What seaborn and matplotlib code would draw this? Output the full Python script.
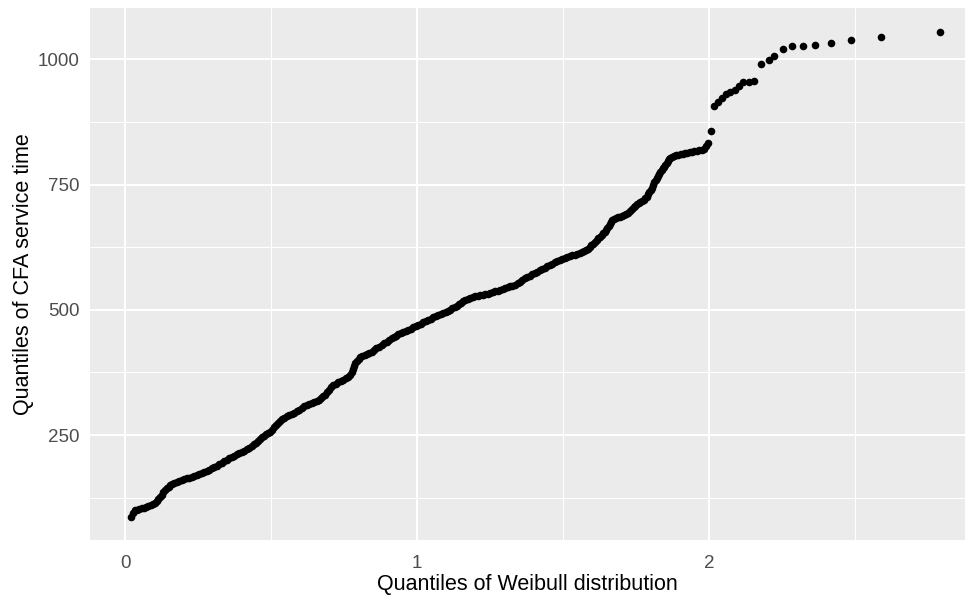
import matplotlib
matplotlib.use("Agg")
import matplotlib.pyplot as plt
import seaborn as sns
import pandas as pd

# Theoretical Weibull quantiles (x) and sample quantiles of CFA service time (y)
weibull_q = [
    0.020, 0.027, 0.033, 0.040, 0.048, 0.056, 0.064, 0.072, 0.079, 0.087,
    0.095, 0.102, 0.108, 0.113, 0.119, 0.124, 0.130, 0.136, 0.142, 0.148,
    0.153, 0.159, 0.167, 0.176, 0.185, 0.193, 0.202, 0.210, 0.219, 0.227,
    0.236, 0.245, 0.253, 0.262, 0.270, 0.279, 0.287, 0.296, 0.304, 0.313,
    0.321, 0.330, 0.338, 0.347, 0.355, 0.364, 0.372, 0.381, 0.390, 0.399,
    0.408, 0.416, 0.425, 0.433, 0.441, 0.447, 0.454, 0.461, 0.468, 0.475,
    0.482, 0.489, 0.496, 0.503, 0.510, 0.517, 0.523, 0.530, 0.537, 0.545,
    0.553, 0.562, 0.570, 0.578, 0.587, 0.595, 0.604, 0.612, 0.621, 0.629,
    0.638, 0.646, 0.655, 0.663, 0.670, 0.677, 0.684, 0.691, 0.698, 0.705,
    0.712, 0.720, 0.729, 0.738, 0.747, 0.755, 0.763, 0.770, 0.775, 0.779,
    0.783, 0.787, 0.793, 0.799, 0.805, 0.812, 0.820, 0.828, 0.836, 0.844,
    0.852, 0.860, 0.869, 0.878, 0.886, 0.895, 0.903, 0.912, 0.920, 0.928,
    0.935, 0.944, 0.952, 0.961, 0.969, 0.977, 0.986, 0.994, 1.003, 1.012,
    1.020, 1.029, 1.038, 1.046, 1.055, 1.064, 1.072, 1.080, 1.089, 1.097,
    1.106, 1.113, 1.120, 1.128, 1.135, 1.142, 1.149, 1.156, 1.163, 1.172,
    1.181, 1.190, 1.198, 1.207, 1.215, 1.224, 1.232, 1.241, 1.249, 1.258,
    1.266, 1.275, 1.283, 1.292, 1.300, 1.309, 1.318, 1.326, 1.335, 1.344,
    1.352, 1.360, 1.369, 1.377, 1.386, 1.394, 1.403, 1.411, 1.420, 1.428,
    1.437, 1.445, 1.454, 1.462, 1.471, 1.479, 1.488, 1.497, 1.505, 1.514,
    1.522, 1.531, 1.540, 1.548, 1.557, 1.565, 1.572, 1.578, 1.584, 1.590,
    1.596, 1.602, 1.608, 1.614, 1.620, 1.626, 1.632, 1.637, 1.642, 1.647,
    1.651, 1.655, 1.659, 1.663, 1.667, 1.674, 1.681, 1.688, 1.695, 1.702,
    1.709, 1.716, 1.723, 1.729, 1.735, 1.741, 1.746, 1.752, 1.758, 1.764,
    1.770, 1.776, 1.781, 1.786, 1.791, 1.795, 1.799, 1.803, 1.807, 1.812,
    1.816, 1.820, 1.825, 1.829, 1.833, 1.837, 1.842, 1.846, 1.850, 1.854,
    1.858, 1.862, 1.867, 1.871, 1.878, 1.886, 1.894, 1.902, 1.910, 1.917,
    1.925, 1.933, 1.941, 1.949, 1.957, 1.966, 1.974, 1.982, 1.989, 1.996,
    2.006, 2.016, 2.031, 2.044, 2.057, 2.071, 2.088, 2.103, 2.117, 2.137,
    2.153, 2.176, 2.203, 2.223, 2.251, 2.283, 2.320, 2.363, 2.416, 2.486,
    2.588, 2.790,
]
service_q = [
    87, 95, 100, 101, 102, 104, 105, 107, 108, 110,
    112, 114, 118, 122, 127, 131, 136, 140, 144, 147,
    150, 152, 155, 157, 159, 160, 162, 164, 165, 167,
    168, 170, 172, 174, 176, 178, 181, 184, 186, 189,
    192, 195, 198, 201, 204, 207, 209, 212, 214, 217,
    219, 222, 225, 228, 232, 235, 239, 243, 246, 249,
    252, 254, 257, 261, 265, 269, 273, 277, 281, 284,
    287, 289, 292, 294, 297, 300, 303, 307, 310, 312,
    313, 315, 317, 320, 323, 327, 330, 335, 340, 345,
    350, 352, 355, 357, 360, 363, 366, 370, 376, 382,
    388, 393, 397, 402, 405, 407, 410, 412, 414, 416,
    420, 423, 426, 430, 433, 436, 440, 443, 446, 448,
    451, 454, 456, 458, 460, 462, 465, 467, 470, 472,
    475, 477, 480, 482, 485, 487, 490, 492, 494, 495,
    497, 500, 503, 506, 508, 511, 514, 517, 520, 522,
    524, 525, 527, 528, 529, 530, 531, 532, 534, 535,
    537, 538, 540, 542, 543, 545, 547, 548, 550, 553,
    556, 559, 563, 566, 568, 571, 573, 576, 579, 581,
    584, 587, 589, 592, 595, 597, 599, 602, 604, 605,
    607, 609, 610, 612, 613, 615, 617, 619, 622, 626,
    629, 632, 636, 639, 643, 646, 649, 653, 656, 660,
    664, 668, 672, 676, 680, 682, 684, 685, 686, 688,
    690, 691, 693, 697, 701, 705, 708, 711, 714, 716,
    718, 720, 723, 726, 731, 736, 740, 744, 749, 755,
    759, 763, 768, 772, 776, 779, 783, 786, 790, 793,
    797, 801, 804, 806, 808, 809, 810, 811, 812, 813,
    814, 815, 816, 817, 818, 819, 820, 822, 826, 832,
    857, 907, 915, 922, 930, 935, 939, 947, 955, 955,
    957, 991, 998, 1007, 1020, 1026, 1026, 1029, 1032, 1038,
    1045, 1054,
]

x_ticks = [0, 1, 2]
x_tick_labels = ["0", "1", "2"]
y_ticks = [250, 500, 750, 1000]
y_tick_labels = ["250", "500", "750", "1000"]
x_minor = [0.5, 1.5, 2.5]
y_minor = [125, 375, 625, 875]

df = pd.DataFrame({"theoretical": weibull_q, "sample": service_q})

sns.set_theme(style="darkgrid")
plt.rcParams["font.family"] = ["Liberation Sans", "DejaVu Sans"]

fig = plt.figure(figsize=(9.69, 6.0), dpi=100)
ax = fig.add_axes([90 / 969, 1 - 540 / 600, (965 - 90) / 969, (540 - 8) / 600])
ax.set_facecolor("#EBEBEB")

sns.scatterplot(data=df, x="theoretical", y="sample", ax=ax,
                color="black", s=30, linewidth=0, zorder=3)

ax.set_xlim(-0.121, 2.876)
ax.set_ylim(40.4, 1102.5)
ax.set_xticks(x_ticks)
ax.set_xticklabels(x_tick_labels)
ax.set_yticks(y_ticks)
ax.set_yticklabels(y_tick_labels)
ax.set_xticks(x_minor, minor=True)
ax.set_yticks(y_minor, minor=True)

ax.grid(which="major", color="white", linewidth=1.5)
ax.grid(which="minor", color="white", linewidth=0.75)
ax.set_axisbelow(True)
for sp in ax.spines.values():
    sp.set_visible(False)

ax.tick_params(axis="both", which="major", length=4.5, width=1.0,
               color="#333333", labelcolor="#4D4D4D", labelsize=13.5)
ax.tick_params(axis="x", which="major", pad=6)
ax.tick_params(axis="y", which="major", pad=3)
ax.tick_params(axis="both", which="minor", length=0)

ax.set_xlabel("Quantiles of Weibull distribution", fontsize=15.5,
              color="black", labelpad=2)
ax.set_ylabel("Quantiles of CFA service time", fontsize=15.5,
              color="black", labelpad=3)

fig.savefig("out.png", dpi=100, facecolor="white")
